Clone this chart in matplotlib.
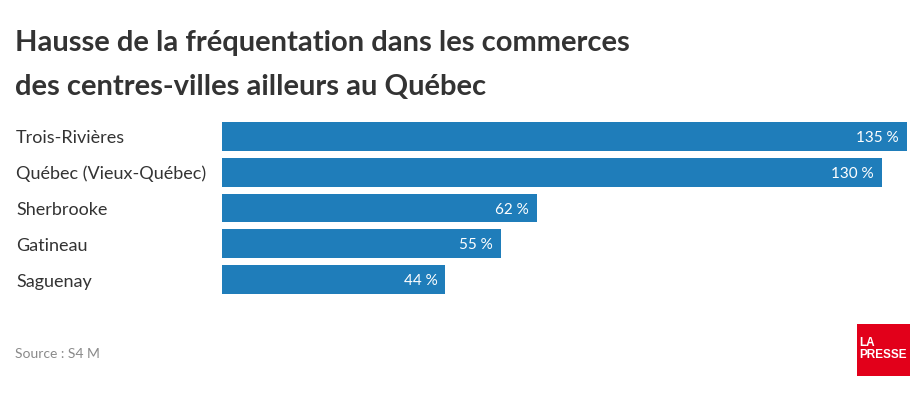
import matplotlib
matplotlib.use("Agg")
import matplotlib.pyplot as plt
from matplotlib.transforms import blended_transform_factory, offset_copy
from matplotlib.patches import Rectangle

cities = ["Trois-Rivières", "Québec (Vieux-Québec)", "Sherbrooke", "Gatineau", "Saguenay"]
values = [135, 130, 62, 55, 44]
value_labels = ["135 %", "130 %", "62 %", "55 %", "44 %"]

W, H = 924, 396
fig = plt.figure(figsize=(W / 100, H / 100), dpi=100)
fig.patch.set_facecolor("white")

def fx(px):
    return px / W

def fy(py):
    return 1 - py / H

ax = fig.add_axes([fx(222), fy(297.5), fx(907) - fx(222), (297.5 - 118.5) / H])
ax.barh(range(len(cities)), values, height=0.81, color="#1f7dba")
ax.set_xlim(0, 135)
ax.set_ylim(len(cities) - 0.5, -0.5)
ax.axis("off")

font = "Lato"
lab_tr = offset_copy(blended_transform_factory(fig.transFigure, ax.transData),
                     fig=fig, x=0, y=-7, units="dots")
for i, c in enumerate(cities):
    ax.text(fx(16), i, c, transform=lab_tr, ha="left", va="baseline",
            fontsize=13, color="#333333", family=font)

val_tr = offset_copy(ax.transData, fig=fig, x=-8, y=-5.5, units="dots")
for i, (v, lbl) in enumerate(zip(values, value_labels)):
    ax.text(v, i, lbl, transform=val_tr, ha="right", va="baseline",
            fontsize=11, color="white", family=font)

fig.text(fx(15), fy(51), "Hausse de la fréquentation dans les commerces",
         fontsize=21, fontweight="bold", color="#333333", family=font, va="baseline")
fig.text(fx(15), fy(95), "des centres-villes ailleurs au Québec",
         fontsize=21, fontweight="bold", color="#333333", family=font, va="baseline")

fig.text(fx(15), fy(354), "Source : S4 M", fontsize=10, color="#8a8a8a",
         family=font, va="center")

fig.patches.append(Rectangle((fx(857), fy(376)), fx(910) - fx(857), (376 - 324) / H,
                             transform=fig.transFigure, facecolor="#e2001a",
                             edgecolor="none"))
fig.text(fx(859.5), fy(346), "LA", fontsize=8.5, fontweight="bold", color="white",
         family="Liberation Sans", va="baseline", ha="left")
fig.text(fx(859.5), fy(358), "PRESSE", fontsize=8.5, fontweight="bold", color="white",
         family="Liberation Sans", va="baseline", ha="left")

fig.savefig("out.png", dpi=100, facecolor="white")
